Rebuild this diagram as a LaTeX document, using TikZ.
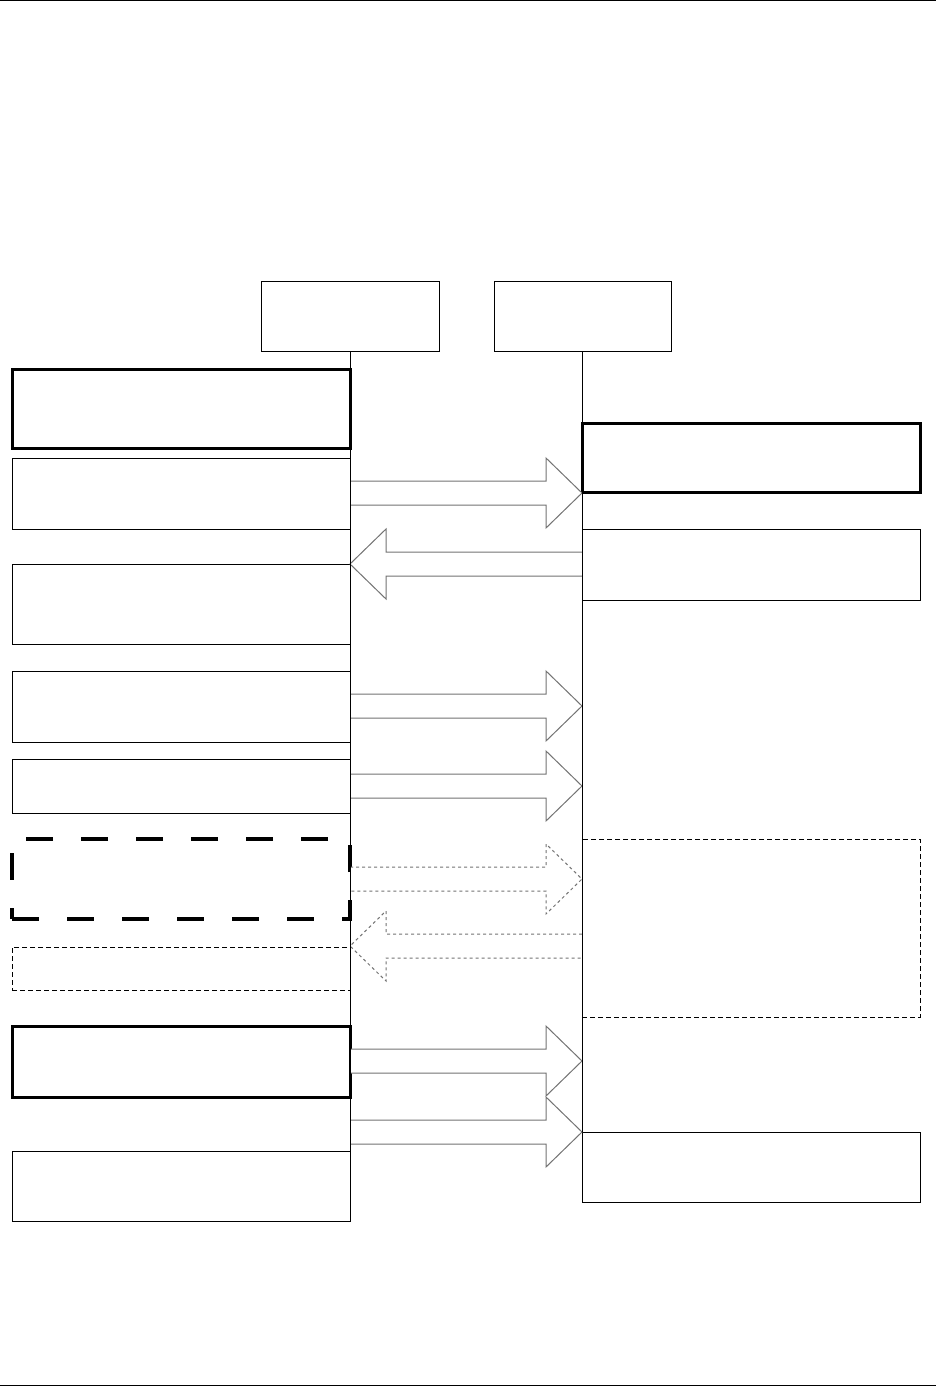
\documentclass[tikz,border=0pt]{standalone}
\newcommand{\toright}[2][]{\draw[flow,#1] (350,#2-12) -- (546,#2-12) -- (546,#2-35) -- (582,#2) -- (546,#2+35) -- (546,#2+12) -- (350,#2+12);}
\newcommand{\toleft}[2][]{\draw[flow,#1] (582,#2-12) -- (386,#2-12) -- (386,#2-35) -- (350,#2) -- (386,#2+35) -- (386,#2+12) -- (582,#2+12);}
\begin{document}
\begin{tikzpicture}[x=1pt, y=-1pt,
    box/.style={draw, line width=1pt, inner sep=0, outer sep=0, anchor=north west},
    heavy/.style={box, line width=3pt},
    flow/.style={draw=black!55, line width=1pt, fill=white}]
    \useasboundingbox (0,0) rectangle (936,1386);
    %page rules
    \draw[line width=1pt] (0,1) -- (936,1);
    \draw[line width=1pt] (0,1385) -- (936,1385);
    %lifeline heads
    \node[box, minimum width=178pt, minimum height=70pt] at (261,281) (objA) {};
    \node[box, minimum width=177pt, minimum height=70pt] at (494,281) (objB) {};
    %left column
    \node[heavy, minimum width=338pt, minimum height=79pt] at (12,369) (la1) {};
    \node[box, minimum width=338pt, minimum height=71pt] at (12,458) (la2) {};
    \node[box, minimum width=338pt, minimum height=80pt] at (12,564) (la3) {};
    \node[box, minimum width=338pt, minimum height=71pt] at (12,671) (la4) {};
    \node[box, minimum width=338pt, minimum height=54pt] at (12,759) (la5) {};
    \node[heavy, line width=4pt, dash pattern=on 27pt off 28pt, minimum width=338pt, minimum height=80pt] at (12,839) (la6) {};
    \node[box, dash pattern=on 5pt off 3pt, minimum width=338pt, minimum height=43pt] at (12,947) (la7) {};
    \node[heavy, minimum width=338pt, minimum height=71pt] at (12,1026) (la8) {};
    \node[box, minimum width=338pt, minimum height=70pt] at (12,1151) (la9) {};
    %right column
    \node[heavy, minimum width=338pt, minimum height=69pt] at (582,423) (rb1) {};
    \node[box, minimum width=338pt, minimum height=71pt] at (582,529) (rb2) {};
    \node[box, dash pattern=on 5pt off 3pt, minimum width=338pt, minimum height=178pt] at (582,839) (rb3) {};
    \node[box, minimum width=338pt, minimum height=70pt] at (582,1132) (rb4) {};
    %messages
    \toright{493}
    \toleft{564}
    \toright{706}
    \toright{786}
    \toright[dashed]{879}
    \toleft[dashed]{946}
    \toright{1061}
    \toright{1132}
    %lifelines
    \draw[line width=1pt] (objA.south) -- (objA.south |- la9.south);
    \draw[line width=1.5pt] (objB.south) -- (objB.south |- rb4.north);
\end{tikzpicture}
\end{document}
